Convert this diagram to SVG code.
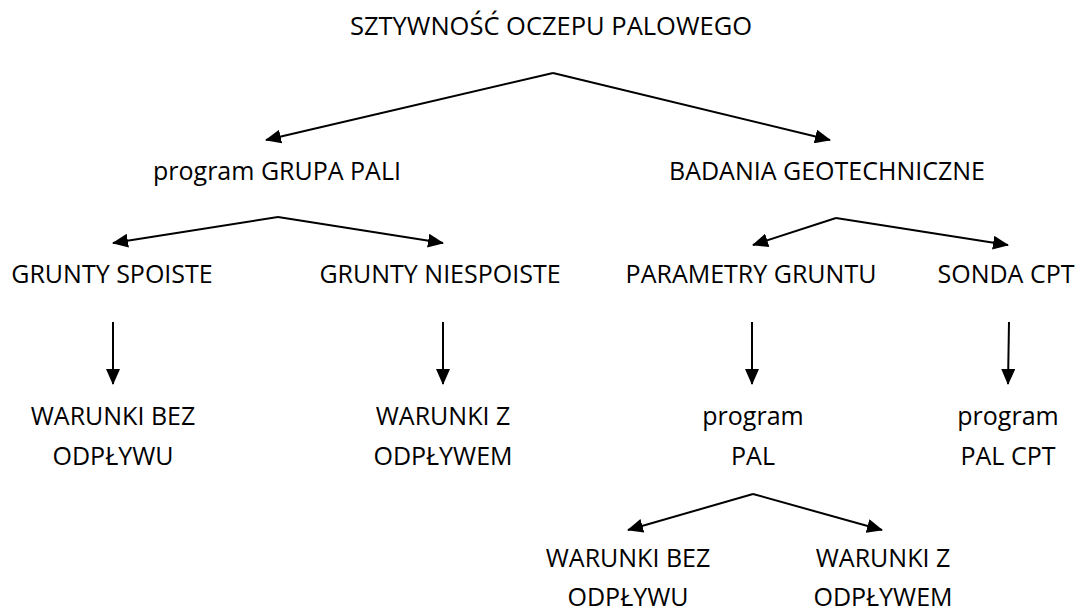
<svg xmlns="http://www.w3.org/2000/svg" width="1086" height="612" viewBox="0 0 1086 612">
<style>
text{font-family:"Open Sans","Noto Sans",sans-serif;font-size:25px;fill:#000;text-anchor:middle}
.c line{stroke:#000;stroke-width:2;fill:none;marker-end:url(#ah)}
</style>
<defs>
<marker id="ah" markerUnits="userSpaceOnUse" viewBox="0 0 16 14" refX="15" refY="7" markerWidth="16" markerHeight="14" orient="auto">
<path d="M0,0 L16,7 L0,14 Z" fill="#000"/>
</marker>
</defs>
<rect width="1086" height="612" fill="#fff"/>
<g class="c" id="connectors">
<line x1="553" y1="73" x2="266" y2="140"/>
<line x1="553" y1="73" x2="830" y2="140"/>
<line x1="278" y1="217" x2="113" y2="243"/>
<line x1="278" y1="217" x2="443" y2="243"/>
<line x1="836" y1="218" x2="753" y2="245"/>
<line x1="836" y1="218" x2="1008" y2="245"/>
<line x1="113" y1="322" x2="113" y2="384"/>
<line x1="443" y1="322" x2="443" y2="384"/>
<line x1="752" y1="322" x2="752" y2="384"/>
<line x1="1009" y1="322" x2="1008" y2="384"/>
<line x1="753" y1="494" x2="628" y2="530"/>
<line x1="753" y1="494" x2="882" y2="530"/>
</g>
<g id="n-root"><text x="551" y="35" style="font-size:25.5px">SZTYWNOŚĆ OCZEPU PALOWEGO</text></g>
<g id="n-grupa"><text x="277" y="180">program GRUPA PALI</text></g>
<g id="n-badania"><text x="827" y="180">BADANIA GEOTECHNICZNE</text></g>
<g id="n-spoiste"><text x="112" y="283">GRUNTY SPOISTE</text></g>
<g id="n-niespoiste"><text x="440" y="283">GRUNTY NIESPOISTE</text></g>
<g id="n-parametry"><text x="751" y="283">PARAMETRY GRUNTU</text></g>
<g id="n-sonda"><text x="1006" y="283">SONDA CPT</text></g>
<g id="n-bez1"><text x="113" y="425">WARUNKI BEZ</text><text x="113" y="465">ODPŁYWU</text></g>
<g id="n-z1"><text x="443" y="425">WARUNKI Z</text><text x="443" y="465">ODPŁYWEM</text></g>
<g id="n-pal"><text x="753" y="425">program</text><text x="753" y="465">PAL</text></g>
<g id="n-palcpt"><text x="1008" y="425">program</text><text x="1008" y="465">PAL CPT</text></g>
<g id="n-bez2"><text x="628" y="567">WARUNKI BEZ</text><text x="628" y="606">ODPŁYWU</text></g>
<g id="n-z2"><text x="883" y="567">WARUNKI Z</text><text x="883" y="606">ODPŁYWEM</text></g>
</svg>
